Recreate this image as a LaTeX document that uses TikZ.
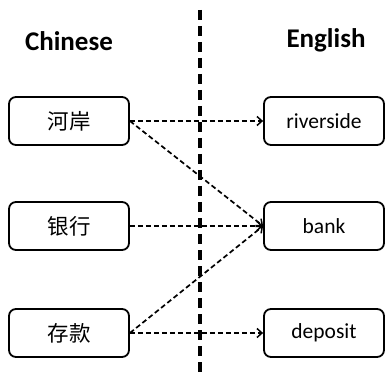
\documentclass[tikz,border=0pt]{standalone}
\usepackage{fontspec}
\setmainfont{Carlito}
\newfontfamily\cjk{Noto Sans CJK SC}
\usetikzlibrary{arrows.meta}
\begin{document}
\begin{tikzpicture}[x=1pt,y=-1pt,
  wordbox/.style={draw,line width=1.8pt,rounded corners=7pt,minimum width=120pt,minimum height=48pt,inner sep=0pt,font=\fontsize{21.5}{23}\selectfont},
  head/.style={font=\bfseries\fontsize{27}{30}\selectfont},
  link/.style={dashed,dash pattern=on 5pt off 3pt,line width=1.7pt,-{Straight Barb[length=5pt,width=9pt,line width=1.5pt]}}]
\useasboundingbox (0,0) rectangle (388,374);
\draw[line width=3.2pt,dash pattern=on 10pt off 6pt] (200,10) -- (200,374);
\node[head] (zh) at (69,41) {Chinese};
\node[head] (en) at (326,40) {English};
\node[wordbox] (a) at (69,121) {\cjk 河岸};
\node[wordbox] (b) at (69,226) {\cjk 银行};
\node[wordbox] (c) at (69,333) {\cjk 存款};
\node[wordbox] (r) at (324,121) {riverside};
\node[wordbox] (k) at (324,226) {bank};
\node[wordbox] (d) at (324,333) {deposit};
\draw[link] (a.east) -- (r.west);
\draw[link] (a.east) -- (k.west);
\draw[link] (b.east) -- (k.west);
\draw[link] (c.east) -- (k.west);
\draw[link] (c.east) -- (d.west);
\end{tikzpicture}
\end{document}
